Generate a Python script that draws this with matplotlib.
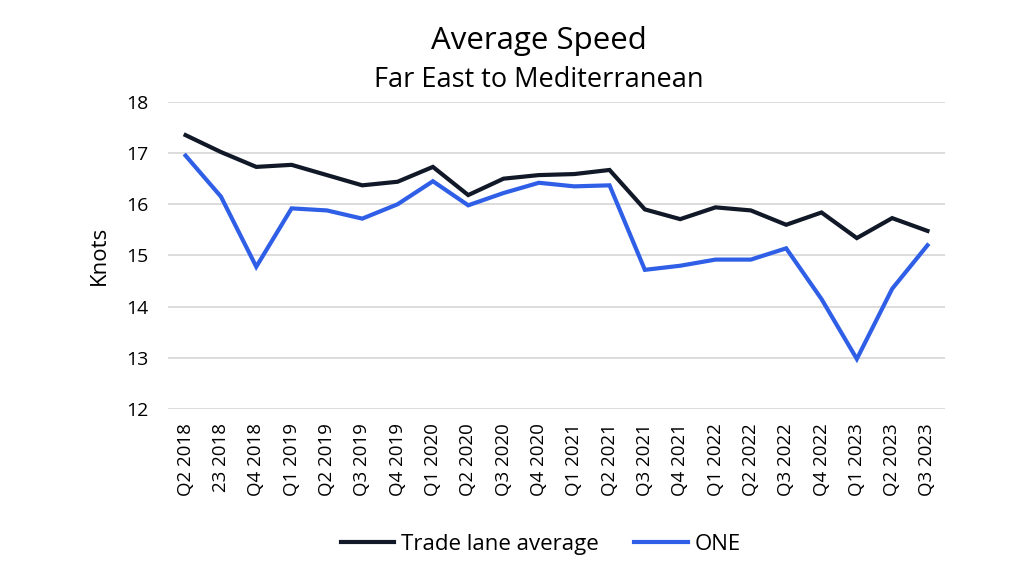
import matplotlib.pyplot as plt
import numpy as np

plt.rcParams['font.family'] = ['Open Sans', 'DejaVu Sans']

# quarters on the x axis (the "23 2018" typo is in the source chart)
quarters = ["Q2 2018", "23 2018", "Q4 2018", "Q1 2019", "Q2 2019", "Q3 2019",
            "Q4 2019", "Q1 2020", "Q2 2020", "Q3 2020", "Q4 2020", "Q1 2021",
            "Q2 2021", "Q3 2021", "Q4 2021", "Q1 2022", "Q2 2022", "Q3 2022",
            "Q4 2022", "Q1 2023", "Q2 2023", "Q3 2023"]

trade_lane_avg = [17.35, 17.02, 16.73, 16.77, 16.57, 16.37, 16.44, 16.73, 16.18,
                  16.50, 16.57, 16.59, 16.67, 15.90, 15.71, 15.94, 15.88, 15.60,
                  15.84, 15.34, 15.73, 15.48]
one_speed = [16.95, 16.15, 14.78, 15.92, 15.88, 15.72, 16.00, 16.45, 15.98,
             16.22, 16.42, 16.35, 16.37, 14.72, 14.80, 14.92, 14.92, 15.14,
             14.15, 12.98, 14.35, 15.20]

fig = plt.figure(figsize=(10.24, 5.82), dpi=100)
ax = fig.add_axes([0.164, 0.297, 0.759, 0.528])

x = np.arange(len(quarters))
ax.plot(x, trade_lane_avg, color='#111827', lw=3.0, label='Trade lane average', solid_joinstyle='miter')
ax.plot(x, one_speed, color='#2f5fe6', lw=3.0, label='ONE', solid_joinstyle='miter')

ax.set_ylim(12, 18)
ax.set_yticks(range(12, 19))
ax.set_xlim(-0.5, len(quarters) - 0.5)
ax.set_xticks(x)
ax.set_xticklabels(quarters, rotation=90, fontsize=13.5)
ax.tick_params(axis='y', labelsize=14, length=0, pad=14)
ax.tick_params(axis='x', length=0, pad=10)
ax.grid(axis='y', color='#d9d9d9', lw=1.3)
ax.set_axisbelow(True)
for s in ax.spines.values():
    s.set_visible(False)

ax.set_ylabel('Knots', fontsize=16, labelpad=12)

fig.text(0.526, 0.93, 'Average Speed', ha='center', va='center', fontsize=22.5)
fig.text(0.526, 0.862, 'Far East to Mediterranean', ha='center', va='center', fontsize=19.5)

fig.legend(loc='center', bbox_to_anchor=(0.528, 0.064), ncol=2, frameon=False,
           fontsize=16, handlelength=2.4, handletextpad=0.3, columnspacing=1.6)

fig.savefig('out.png', dpi=100, facecolor='white')
